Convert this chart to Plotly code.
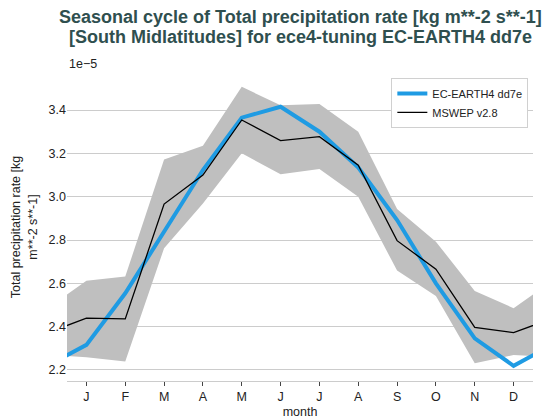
import plotly.graph_objects as go

# -----------------------------
# Data (units of 1e-5 kg m**-2 s**-1)
# -----------------------------
months = ["J", "F", "M", "A", "M", "J", "J", "A", "S", "O", "N", "D"]
model = [2.316, 2.554, 2.839, 3.123, 3.365, 3.415, 3.300, 3.135, 2.892, 2.600, 2.346, 2.219]
obs = [2.439, 2.436, 2.966, 3.100, 3.354, 3.259, 3.277, 3.145, 2.797, 2.665, 2.397, 2.372]
obs_upper = [2.612, 2.631, 3.172, 3.235, 3.507, 3.422, 3.428, 3.300, 2.943, 2.792, 2.565, 2.485]
obs_lower = [2.259, 2.239, 2.762, 2.969, 3.200, 3.103, 3.128, 3.000, 2.659, 2.542, 2.231, 2.269]
title_lines = ["Seasonal cycle of Total precipitation rate [kg m**-2 s**-1]",
               "[South Midlatitudes] for ece4-tuning EC-EARTH4 dd7e"]

# cyclic: December before January, January after December
x = list(range(0, 14))


def wrap(v):
    return [v[-1]] + v + [v[0]]


fig = go.Figure()

# spread band
fig.add_trace(go.Scatter(x=x, y=wrap(obs_upper), mode="lines", line=dict(width=0),
                         showlegend=False, hoverinfo="skip"))
fig.add_trace(go.Scatter(x=x, y=wrap(obs_lower), mode="lines", line=dict(width=0),
                         fill="tonexty", fillcolor="rgb(191,191,191)",
                         showlegend=False, hoverinfo="skip"))

fig.add_trace(go.Scatter(x=x, y=wrap(model), mode="lines", name="EC-EARTH4 dd7e",
                         line=dict(color="#1f9be3", width=4)))
fig.add_trace(go.Scatter(x=x, y=wrap(obs), mode="lines", name="MSWEP v2.8",
                         line=dict(color="black", width=1.3)))

# Styling (page body adds an 8px margin, so the figure is 8px smaller)
fig.update_layout(
    width=544, height=412,
    margin=dict(l=59, r=19, t=65, b=39, autoexpand=False),
    template="plotly_white",
    plot_bgcolor="white",
    font=dict(family="Liberation Sans, Arial, sans-serif", size=12, color="#222"),
    legend=dict(x=0.99, y=0.984, xanchor="right", yanchor="top",
                bgcolor="white", bordercolor="#d0d0d0", borderwidth=1,
                font=dict(size=11), traceorder="normal", itemwidth=30,
                tracegroupgap=0),
    xaxis=dict(
        range=[0.5, 12.5], tickvals=list(range(1, 13)), ticktext=months,
        showgrid=False, zeroline=False, showline=True, linecolor="#cccccc",
        ticks="outside", ticklen=4, tickcolor="#444", automargin=False,
        title=dict(text="month", standoff=4, font=dict(size=12.5)),
        tickfont=dict(size=12.5),
    ),
    yaxis=dict(
        range=[2.149, 3.571], tickvals=[2.2, 2.4, 2.6, 2.8, 3.0, 3.2, 3.4],
        tickformat=".1f", showgrid=True, gridcolor="#cccccc", zeroline=False,
        ticks="", showline=False, automargin=False,
        title=dict(text="Total precipitation rate [kg<br>m**-2 s**-1]",
                   standoff=8, font=dict(size=12.5)),
        tickfont=dict(size=12.5),
    ),
)

# title as two lines, centred over the plot area
for text, ypos in zip(title_lines, [1.183, 1.118]):
    fig.add_annotation(text="<b>" + text + "</b>", xref="paper", yref="paper",
                       x=0.5, y=ypos, xanchor="center", yanchor="middle",
                       showarrow=False, font=dict(size=18, color="#2f4f4f"))

fig.add_annotation(text="1e\u22125", xref="paper", yref="paper", x=0, y=1.0,
                   xanchor="left", yanchor="bottom", showarrow=False,
                   font=dict(size=12.5, color="#222"), yshift=0)

fig.write_html("out.html")
